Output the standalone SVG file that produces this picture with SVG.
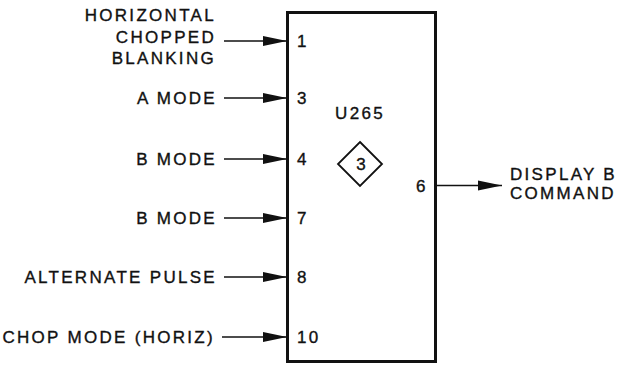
<svg xmlns="http://www.w3.org/2000/svg" width="618" height="366" viewBox="0 0 618 366">
<style>
text{font-family:"Liberation Sans",Arial,sans-serif;font-size:17px;fill:#111;stroke:#111;stroke-width:0.35;letter-spacing:2.3px}
.r{text-anchor:end}
.c{text-anchor:middle}
.w{stroke:#111;stroke-width:1.6;fill:none}
</style>
<defs>
<marker id="ah" markerUnits="userSpaceOnUse" markerWidth="24" markerHeight="11" refX="24" refY="5.5" orient="auto">
<path d="M0,0.5 L24,5.5 L0,10.5 Z" fill="#111"/>
</marker>
</defs>
<rect width="618" height="366" fill="#fff"/>
<g id="connectors">
<line class="w" x1="224" y1="41" x2="287" y2="41" marker-end="url(#ah)"/>
<line class="w" x1="224" y1="98" x2="287" y2="98" marker-end="url(#ah)"/>
<line class="w" x1="224" y1="159" x2="287" y2="159" marker-end="url(#ah)"/>
<line class="w" x1="224" y1="218" x2="287" y2="218" marker-end="url(#ah)"/>
<line class="w" x1="224" y1="277" x2="287" y2="277" marker-end="url(#ah)"/>
<line class="w" x1="222" y1="337" x2="287" y2="337" marker-end="url(#ah)"/>
<line class="w" x1="436" y1="185.5" x2="502" y2="185.5" marker-end="url(#ah)"/>
</g>
<g id="u265">
<rect x="287.5" y="12.5" width="148" height="349" fill="none" stroke="#111" stroke-width="3"/>
<text class="c" x="360" y="119">U265</text>
<path d="M360,142 L382,164 L360,186 L338,164 Z" fill="none" stroke="#111" stroke-width="1.8"/>
<text class="c" x="361" y="170" style="letter-spacing:0">3</text>
<text x="297" y="47">1</text>
<text x="297" y="104">3</text>
<text x="297" y="165">4</text>
<text x="297" y="224">7</text>
<text x="297" y="283">8</text>
<text x="297" y="343">10</text>
<text x="416" y="192">6</text>
</g>
<g id="in1">
<text class="r" x="216" y="21">HORIZONTAL</text>
<text class="r" x="216" y="42.5">CHOPPED</text>
<text class="r" x="216" y="64">BLANKING</text>
</g>
<g id="in3"><text class="r" x="217" y="104">A MODE</text></g>
<g id="in4"><text class="r" x="217" y="165">B MODE</text></g>
<g id="in7"><text class="r" x="217" y="224">B MODE</text></g>
<g id="in8"><text class="r" x="217" y="283">ALTERNATE PULSE</text></g>
<g id="in10"><text class="r" x="215" y="343">CHOP MODE (HORIZ)</text></g>
<g id="out6">
<text x="510" y="180">DISPLAY B</text>
<text x="510" y="199">COMMAND</text>
</g>
</svg>
